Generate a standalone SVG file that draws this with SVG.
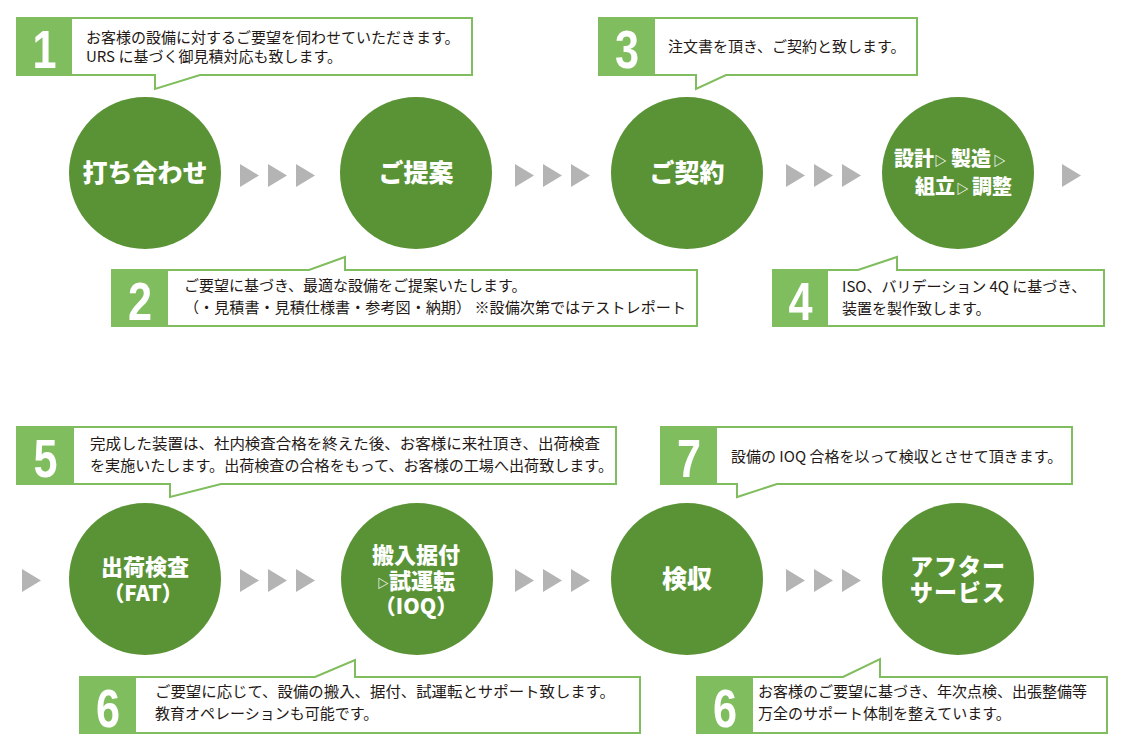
<svg xmlns="http://www.w3.org/2000/svg" xmlns:xlink="http://www.w3.org/1999/xlink" width="1124" height="748" viewBox="0 0 1124 748">
<style>
.circ{fill:#5a9336}
.box{fill:#fff;stroke:#80bd5e;stroke-width:2}
.sq{fill:#80bd5e}
.num{font-family:"Liberation Sans",Arial,sans-serif;font-weight:bold;font-size:54px;fill:#fff;text-anchor:middle}
.t{font-family:"Noto Sans CJK JP","Noto Sans",sans-serif;font-size:15px;fill:#231815}
.ct{font-family:"Noto Sans CJK JP","Noto Sans",sans-serif;font-weight:900;fill:#fff;text-anchor:middle}
.cs{font-family:"Noto Sans CJK JP","Noto Sans",sans-serif;font-weight:900;fill:#fff;text-anchor:start}
.tri{fill:#b4b4b4}
</style>
<defs>
<polygon id="tri" class="tri" points="0,0 0,23 19,11.5"/>
<g id="tri3"><use xlink:href="#tri" x="0"/><use xlink:href="#tri" x="28"/><use xlink:href="#tri" x="56"/></g>
</defs>
<rect width="1124" height="748" fill="#fff"/>

<g id="connectors">
<use xlink:href="#tri3" x="240" y="164"/>
<use xlink:href="#tri3" x="515" y="164"/>
<use xlink:href="#tri3" x="786" y="164"/>
<use xlink:href="#tri" x="1062" y="164"/>
<use xlink:href="#tri" x="22" y="569"/>
<use xlink:href="#tri3" x="240" y="569"/>
<use xlink:href="#tri3" x="515" y="569"/>
<use xlink:href="#tri3" x="786" y="569"/>
</g>

<!-- callouts -->
<g id="note1">
<path class="box" d="M17,18 H472 V75 H200 L155,89 V75 H17 Z"/>
<rect class="sq" x="17" y="18" width="55" height="57"/>
<text class="num" transform="translate(44.5,68) scale(0.8,1)">1</text>
<text class="t" x="86" y="43">お客様の設備に対するご要望を伺わせていただきます。</text>
<text class="t" x="86" y="62">URS に基づく御見積対応も致します。</text>
</g>

<g id="note2">
<path class="box" d="M112,270 H309 L345,257 V270 H697 V326 H112 Z"/>
<rect class="sq" x="112" y="270" width="56" height="56"/>
<text class="num" transform="translate(140,320) scale(0.8,1)">2</text>
<text class="t" x="184" y="291">ご要望に基づき、最適な設備をご提案いたします。</text>
<text class="t" x="184" y="313" textLength="502" lengthAdjust="spacingAndGlyphs">（・見積書・見積仕様書・参考図・納期） ※設備次第ではテストレポート</text>
</g>

<g id="note3">
<path class="box" d="M599,18 H917 V75 H726 L696,89 V75 H599 Z"/>
<rect class="sq" x="599" y="18" width="56" height="57"/>
<text class="num" transform="translate(627,68) scale(0.8,1)">3</text>
<text class="t" x="668" y="52">注文書を頂き、ご契約と致します。</text>
</g>

<g id="note4">
<path class="box" d="M773,270 H858 L897,257 V270 H1104 V326 H773 Z"/>
<rect class="sq" x="773" y="270" width="55" height="56"/>
<text class="num" transform="translate(800.5,320) scale(0.8,1)">4</text>
<text class="t" x="842" y="292">ISO、バリデーション 4Q に基づき、</text>
<text class="t" x="842" y="314">装置を製作致します。</text>
</g>

<g id="note5">
<path class="box" d="M17,427 H616 V484 H221 L170,497 V484 H17 Z"/>
<rect class="sq" x="17" y="427" width="57" height="57"/>
<text class="num" transform="translate(45.5,477) scale(0.8,1)">5</text>
<text class="t" x="90" y="449" textLength="510" lengthAdjust="spacingAndGlyphs">完成した装置は、社内検査合格を終えた後、お客様に来社頂き、出荷検査</text>
<text class="t" x="90" y="471" textLength="523" lengthAdjust="spacingAndGlyphs">を実施いたします。出荷検査の合格をもって、お客様の工場へ出荷致します。</text>
</g>

<g id="note7">
<path class="box" d="M661,427 H1072 V484 H777 L737,497 V484 H661 Z"/>
<rect class="sq" x="661" y="427" width="56" height="57"/>
<text class="num" transform="translate(689,477) scale(0.8,1)">7</text>
<text class="t" x="731" y="462">設備の IOQ 合格を以って検収とさせて頂きます。</text>
</g>

<g id="note6a">
<path class="box" d="M80,677 H315 L355,660 V677 H640 V733 H80 Z"/>
<rect class="sq" x="80" y="677" width="56" height="56"/>
<text class="num" transform="translate(108,727) scale(0.8,1)">6</text>
<text class="t" x="155" y="697" textLength="460" lengthAdjust="spacingAndGlyphs">ご要望に応じて、設備の搬入、据付、試運転とサポート致します。</text>
<text class="t" x="155" y="719">教育オペレーションも可能です。</text>
</g>

<g id="note6b">
<path class="box" d="M697,677 H843 L880,659 V677 H1107 V733 H697 Z"/>
<rect class="sq" x="697" y="677" width="56" height="56"/>
<text class="num" transform="translate(725,727) scale(0.8,1)">6</text>
<text class="t" x="758" y="697">お客様のご要望に基づき、年次点検、出張整備等</text>
<text class="t" x="758" y="719">万全のサポート体制を整えています。</text>
</g>

<!-- circles -->
<g id="step-meeting">
<circle class="circ" cx="145" cy="173" r="76"/>
<text class="ct" x="145" y="182" font-size="25">打ち合わせ</text>
</g>
<g id="step-proposal">
<circle class="circ" cx="416" cy="173" r="76"/>
<text class="ct" x="416" y="182" font-size="25">ご提案</text>
</g>
<g id="step-contract">
<circle class="circ" cx="687" cy="173" r="76"/>
<text class="ct" x="687" y="182" font-size="25">ご契約</text>
</g>
<g id="step-build">
<circle class="circ" cx="958" cy="173" r="76"/>
<text class="cs" x="894" y="166" font-size="20">設計<tspan font-size="13" dy="-1">▷</tspan><tspan dx="4" dy="1">製造</tspan><tspan font-size="13" dx="2" dy="-1">▷</tspan></text>
<text class="cs" x="915" y="194" font-size="20">組立<tspan font-size="13" dx="1" dy="-1">▷</tspan><tspan dx="3" dy="1">調整</tspan></text>
</g>
<g id="step-fat">
<circle class="circ" cx="145" cy="579" r="76"/>
<text class="ct" x="145" y="575" font-size="22">出荷検査</text>
<text class="ct" x="143" y="601" font-size="21">（FAT）</text>
</g>
<g id="step-install">
<circle class="circ" cx="417" cy="579" r="76"/>
<text class="ct" x="416" y="563" font-size="22">搬入据付</text>
<text class="ct" x="416" y="589" font-size="22"><tspan font-size="12" dy="-1">▷</tspan><tspan dy="1">試運転</tspan></text>
<text class="ct" x="416" y="614" font-size="21">（IOQ）</text>
</g>
<g id="step-acceptance">
<circle class="circ" cx="687" cy="579" r="76"/>
<text class="ct" x="687" y="588" font-size="25">検収</text>
</g>
<g id="step-after">
<circle class="circ" cx="958" cy="579" r="76"/>
<text class="ct" x="958" y="575" font-size="23" letter-spacing="1">アフター</text>
<text class="ct" x="958" y="601" font-size="23" letter-spacing="1">サービス</text>
</g>
</svg>
